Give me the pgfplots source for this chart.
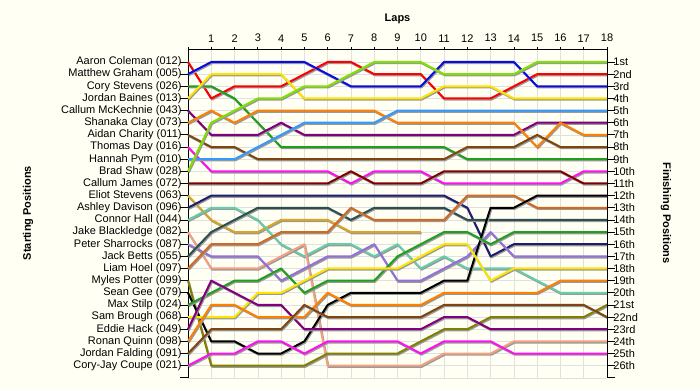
\documentclass[border=0pt]{standalone}
\usepackage{pgfplots}
\pgfplotsset{compat=1.18}
\usepackage{fontspec}
\setmainfont{Liberation Sans}
\definecolor{bg}{HTML}{FFFFF3}
\definecolor{cRed}{HTML}{FF0000}
\definecolor{cBlue}{HTML}{0A0AE6}
\definecolor{cGreen}{HTML}{1EA01E}
\definecolor{cYellow}{HTML}{FFE400}
\definecolor{cPurple}{HTML}{800080}
\definecolor{cOrange}{HTML}{FF8000}
\definecolor{cBrown}{HTML}{7F4510}
\definecolor{cMagenta}{HTML}{FF10F0}
\definecolor{cLBlue}{HTML}{3399FF}
\definecolor{cLime}{HTML}{80E000}
\definecolor{cMaroon}{HTML}{800000}
\definecolor{cGold}{HTML}{DAA520}
\definecolor{cNavy}{HTML}{1E1E70}
\definecolor{cAqua}{HTML}{66CDAA}
\definecolor{cSalmon}{HTML}{F4A080}
\definecolor{cMPurple}{HTML}{9370DB}
\definecolor{cSlate}{HTML}{2F4F4F}
\definecolor{cChoc}{HTML}{D2691E}
\definecolor{cOlive}{HTML}{808000}
\definecolor{cBlack}{HTML}{000000}
\begin{document}
\begin{tikzpicture}[x=1bp,y=1bp]
\fill[bg] (0,0) rectangle (700,390);
\begin{axis}[
  at={(188bp,12.2bp)}, anchor=south west,
  scale only axis, width=419bp, height=327.95bp,
  xmin=0, xmax=18, ymin=0, ymax=27, y dir=reverse,
  enlargelimits=false, clip=false,
  axis x line*=top, axis y line*=left,
  xtick={0,...,18},
  xticklabels={{},1,2,3,4,5,6,7,8,9,10,11,12,13,14,15,16,17,18},
  ytick={1,...,27},
  yticklabels={Aaron Coleman (012),Matthew Graham (005),Cory Stevens (026),Jordan Baines (013),Callum McKechnie (043),Shanaka Clay (073),Aidan Charity (011),Thomas Day (016),Hannah Pym (010),Brad Shaw (028),Callum James (072),Eliot Stevens (063),Ashley Davison (096),Connor Hall (044),Jake Blackledge (082),Peter Sharrocks (087),Jack Betts (055),Liam Hoel (097),Myles Potter (099),Sean Gee (079),Max Stilp (024),Sam Brough (068),Eddie Hack (049),Ronan Quinn (098),Jordan Falding (091),Cory-Jay Coupe (021),{}},
  tick align=outside,
  xtick style={/pgfplots/major tick length=3bp, black, line width=0.8bp},
  ytick style={/pgfplots/major tick length=8bp, black, line width=0.8bp},
  grid=major, grid style={color=black!12, line width=0.6bp},
  axis line style={line width=0.9bp, black},
  ticklabel style={font=\fontsize{11bp}{13bp}\selectfont},
  yticklabel style={inner sep=2bp},
  drv/.style={line width=2bp, mark=none, line join=round,
    preaction={draw=black!40, transform canvas={shift={(0.8bp,-1.2bp)}}}},
]
\addplot[drv, color=cRed] coordinates {(0,1)(1,4)(2,3)(3,3)(4,3)(5,2)(6,1)(7,1)(8,2)(9,2)(10,2)(11,4)(12,4)(13,4)(14,3)(15,2)(16,2)(17,2)(18,2)};
\addplot[drv, color=cBlue] coordinates {(0,2)(1,1)(2,1)(3,1)(4,1)(5,1)(6,2)(7,3)(8,3)(9,3)(10,3)(11,1)(12,1)(13,1)(14,1)(15,3)(16,3)(17,3)(18,3)};
\addplot[drv, color=cGreen] coordinates {(0,3)(1,3)(2,4)(3,6)(4,8)(5,8)(6,8)(7,8)(8,8)(9,8)(10,8)(11,8)(12,9)(13,9)(14,9)(15,9)(16,9)(17,9)(18,9)};
\addplot[drv, color=cYellow] coordinates {(0,4)(1,2)(2,2)(3,2)(4,2)(5,4)(6,4)(7,4)(8,4)(9,4)(10,4)(11,3)(12,3)(13,3)(14,4)(15,4)(16,4)(17,4)(18,4)};
\addplot[drv, color=cPurple] coordinates {(0,5)(1,7)(2,7)(3,7)(4,6)(5,7)(6,7)(7,7)(8,7)(9,7)(10,7)(11,7)(12,7)(13,7)(14,7)(15,6)(16,6)(17,6)(18,6)};
\addplot[drv, color=cOrange] coordinates {(0,6)(1,5)(2,6)(3,5)(4,5)(5,5)(6,5)(7,5)(8,5)(9,6)(10,6)(11,6)(12,6)(13,6)(14,6)(15,8)(16,6)(17,7)(18,7)};
\addplot[drv, color=cBrown] coordinates {(0,7)(1,8)(2,8)(3,9)(4,9)(5,9)(6,9)(7,9)(8,9)(9,9)(10,9)(11,9)(12,8)(13,8)(14,8)(15,7)(16,8)(17,8)(18,8)};
\addplot[drv, color=cMagenta] coordinates {(0,8)(1,10)(2,10)(3,10)(4,10)(5,10)(6,10)(7,11)(8,10)(9,10)(10,10)(11,11)(12,11)(13,11)(14,11)(15,11)(16,11)(17,10)(18,10)};
\addplot[drv, color=cLBlue] coordinates {(0,9)(1,9)(2,9)(3,8)(4,7)(5,6)(6,6)(7,6)(8,6)(9,5)(10,5)(11,5)(12,5)(13,5)(14,5)(15,5)(16,5)(17,5)(18,5)};
\addplot[drv, color=cLime] coordinates {(0,10)(1,6)(2,5)(3,4)(4,4)(5,3)(6,3)(7,2)(8,1)(9,1)(10,1)(11,2)(12,2)(13,2)(14,2)(15,1)(16,1)(17,1)(18,1)};
\addplot[drv, color=cMaroon] coordinates {(0,11)(1,11)(2,11)(3,11)(4,11)(5,11)(6,11)(7,10)(8,11)(9,11)(10,11)(11,10)(12,10)(13,10)(14,10)(15,10)(16,10)(17,11)(18,11)};
\addplot[drv, color=cGold] coordinates {(0,12)(1,14)(2,15)(3,15)(4,14)(5,14)(6,14)(7,15)(8,15)(9,15)(10,15)};
\addplot[drv, color=cNavy] coordinates {(0,13)(1,12)(2,12)(3,12)(4,12)(5,12)(6,12)(7,12)(8,12)(9,12)(10,12)(11,12)(12,13)(13,17)(14,16)(15,16)(16,16)(17,16)(18,16)};
\addplot[drv, color=cAqua] coordinates {(0,14)(1,13)(2,13)(3,14)(4,16)(5,17)(6,16)(7,16)(8,17)(9,16)(10,18)(11,17)(12,18)(13,18)(14,18)(15,19)(16,20)(17,20)(18,20)};
\addplot[drv, color=cSalmon] coordinates {(0,15)(1,18)(2,18)(3,18)(4,17)(5,16)(6,26)(7,26)(8,26)(9,26)(10,26)(11,25)(12,25)(13,25)(14,24)(15,24)(16,24)(17,24)(18,24)};
\addplot[drv, color=cMPurple] coordinates {(0,16)(1,17)(2,17)(3,17)(4,19)(5,18)(6,17)(7,17)(8,16)(9,19)(10,19)(11,18)(12,17)(13,15)(14,17)(15,17)(16,17)(17,17)(18,17)};
\addplot[drv, color=cSlate] coordinates {(0,17)(1,15)(2,14)(3,13)(4,13)(5,13)(6,13)(7,14)(8,13)(9,13)(10,13)(11,13)(12,14)(13,14)(14,14)(15,14)(16,14)(17,14)(18,14)};
\addplot[drv, color=cChoc] coordinates {(0,18)(1,16)(2,16)(3,16)(4,15)(5,15)(6,15)(7,13)(8,14)(9,14)(10,14)(11,14)(12,12)(13,12)(14,12)(15,13)(16,13)(17,13)(18,13)};
\addplot[drv, color=cOlive] coordinates {(0,19)(1,26)(2,26)(3,26)(4,26)(5,26)(6,25)(7,25)(8,25)(9,25)(10,24)(11,23)(12,23)(13,22)(14,22)(15,22)(16,22)(17,22)(18,21)};
\addplot[drv, color=cBlack] coordinates {(0,20)(1,24)(2,24)(3,25)(4,25)(5,24)(6,21)(7,20)(8,20)(9,20)(10,20)(11,19)(12,19)(13,13)(14,13)(15,12)(16,12)(17,12)(18,12)};
\addplot[drv, color=cGreen] coordinates {(0,21)(1,20)(2,19)(3,19)(4,18)(5,20)(6,19)(7,19)(8,19)(9,17)(10,16)(11,15)(12,15)(13,16)(14,15)(15,15)(16,15)(17,15)(18,15)};
\addplot[drv, color=cYellow] coordinates {(0,22)(1,22)(2,22)(3,20)(4,20)(5,19)(6,18)(7,18)(8,18)(9,18)(10,17)(11,16)(12,16)(13,19)(14,18)(15,18)(16,18)(17,18)(18,18)};
\addplot[drv, color=cPurple] coordinates {(0,23)(1,19)(2,20)(3,21)(4,21)(5,23)(6,23)(7,23)(8,23)(9,23)(10,23)(11,22)(12,22)(13,23)(14,23)(15,23)(16,23)(17,23)(18,23)};
\addplot[drv, color=cOrange] coordinates {(0,24)(1,21)(2,21)(3,22)(4,22)(5,22)(6,20)(7,21)(8,21)(9,21)(10,21)(11,20)(12,20)(13,20)(14,20)(15,20)(16,19)(17,19)(18,19)};
\addplot[drv, color=cBrown] coordinates {(0,25)(1,23)(2,23)(3,23)(4,23)(5,21)(6,22)(7,22)(8,22)(9,22)(10,22)(11,21)(12,21)(13,21)(14,21)(15,21)(16,21)(17,21)(18,22)};
\addplot[drv, color=cMagenta] coordinates {(0,26)(1,25)(2,25)(3,24)(4,24)(5,25)(6,24)(7,24)(8,24)(9,24)(10,25)(11,24)(12,24)(13,24)(14,25)(15,25)(16,25)(17,25)(18,25)};
\end{axis}
\begin{axis}[
  at={(188bp,12.2bp)}, anchor=south west,
  scale only axis, width=419bp, height=327.95bp,
  xmin=0, xmax=18, ymin=0, ymax=27, y dir=reverse,
  enlargelimits=false,
  axis x line=none, axis y line*=right,
  ytick={1,...,27},
  yticklabels={1st,2nd,3rd,4th,5th,6th,7th,8th,9th,10th,11th,12th,13th,14th,15th,16th,17th,18th,19th,20th,21st,22nd,23rd,24th,25th,26th,{}},
  tick align=outside,
  ytick style={/pgfplots/major tick length=8bp, black, line width=0.8bp},
  axis line style={line width=0.9bp, black},
  ticklabel style={font=\fontsize{11bp}{13bp}\selectfont},
  yticklabel style={inner sep=2bp},
]
\addplot[draw=none] coordinates {(0,1)};
\end{axis}
\node[font=\bfseries\fontsize{11bp}{13bp}\selectfont] at (397.5,371) {Laps};
\node[font=\bfseries\fontsize{11bp}{13bp}\selectfont, rotate=90] at (28,177) {Starting Positions};
\node[font=\bfseries\fontsize{11bp}{13bp}\selectfont, rotate=-90] at (666,177) {Finishing Positions};
\pgfresetboundingbox
\useasboundingbox (0,0) rectangle (700,390);
\end{tikzpicture}
\end{document}
